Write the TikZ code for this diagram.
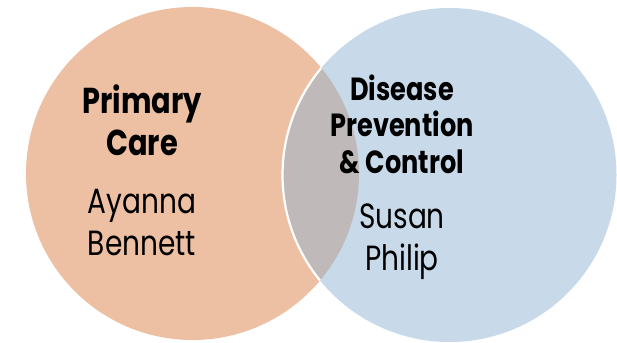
\documentclass[tikz,border=0pt]{standalone}
\usepackage{fontspec}
\setmainfont{Poppins}[FakeStretch=0.8]
\definecolor{peach}{RGB}{237,191,163}
\definecolor{paleblue}{RGB}{200,218,233}
\definecolor{overlapgray}{RGB}{191,185,185}
\begin{document}
\begin{tikzpicture}[x=1pt,y=-1pt,
  titletext/.style={align=center,inner sep=0pt,anchor=base,font=\bfseries\fontsize{36}{42}\selectfont},
  titlesmall/.style={align=center,inner sep=0pt,anchor=base,font=\bfseries\fontsize{32}{36.5}\selectfont},
  nametext/.style={align=center,inner sep=0pt,anchor=base,font=\fontsize{35}{42}\selectfont}]
\useasboundingbox (0,0) rectangle (617,342);
\coordinate (lc) at (192.5,173.5);
\coordinate (rc) at (449.5,175);
\fill[peach] (lc) circle [radius=166.5pt];
\fill[paleblue] (rc) circle [radius=167pt];
\begin{scope}
  \clip (lc) circle [radius=166.5pt];
  \fill[overlapgray] (rc) circle [radius=167pt];
  \draw[white,line width=2.2pt] (rc) circle [radius=167pt];
\end{scope}
\node[titletext] (t1) at (142,155) {Primary\\Care};
\node[nametext] (n1) at (142,255) {Ayanna\\Bennett};
\node[titlesmall] (t2) at (402,173) {Disease\\Prevention\\\& Control};
\node[nametext] (n2) at (402,270) {Susan\\Philip};
\end{tikzpicture}
\end{document}
